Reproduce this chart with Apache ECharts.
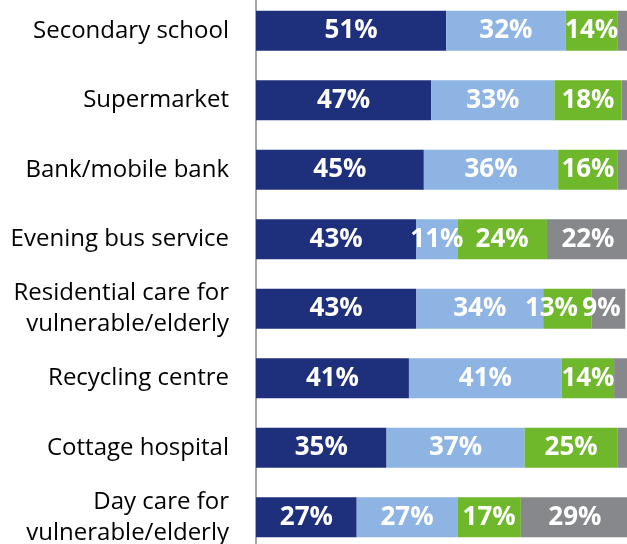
<!DOCTYPE html>
<html>
	<head>
		<meta charset="UTF-8">
		<title></title>
		<script src="https://cdn.jsdelivr.net/npm/echarts@6/dist/echarts.min.js"></script>
		<style>
			html, body { margin: 0; padding: 0; background: #fff; }
		</style>
	</head>
	<body>
		<div id="chart" style="width: 627px;height: 544px;"></div>
		<script type="text/javascript">
			var categories = ['Secondary school', 'Supermarket', 'Bank/mobile bank', 'Evening bus service',
				'Residential care for\nvulnerable/elderly', 'Recycling centre', 'Cottage hospital',
				'Day care for\nvulnerable/elderly'];
			var dark = [51, 47, 45, 43, 43, 41, 35, 27];
			var light = [32, 33, 36, 11, 34, 41, 37, 27];
			var green = [14, 18, 16, 24, 13, 14, 25, 17];
			var grey = [3, 2, 3, 22, 9, 4, 3, 29];

			var colors = ['#1e2f7c', '#8eb4e3', '#6fb72b', '#87888c'];
			var lists = [dark, light, green, grey];
			// labels nudged left on the crowded residential care row
			var nudges = [0, 0, -16, -7];

			var myChart = echarts.init(document.getElementById('chart'));
			var series = [];
			for (var i = 0; i < lists.length; i++) {
				var items = lists[i].map(function (v, j) {
					if (j == 4 && nudges[i]) {
						return { value: v, label: { offset: [nudges[i], 0] } };
					}
					return v;
				});
				series.push({
					type: 'bar',
					stack: 'all',
					barWidth: 40,
					data: items,
					itemStyle: { color: colors[i] },
					label: {
						show: true,
						position: 'inside',
						color: '#fff',
						fontFamily: 'Open Sans',
						fontWeight: 'bold',
						fontSize: 26,
						formatter: function (p) {
							return p.value >= 5 ? p.value + '%' : '';
						}
					}
				});
			}

			var option = {
				animation: false,
				grid: { left: 256, top: -4, width: 373, height: 556, outerBoundsMode: 'none', containLabel: false },
				xAxis: {
					type: 'value',
					min: 0,
					max: 100,
					show: false
				},
				yAxis: {
					type: 'category',
					inverse: true,
					data: categories,
					axisTick: { show: false },
					axisLine: { show: true, lineStyle: { color: '#a6a6a6', width: 2 } },
					axisLabel: {
						margin: 27,
						color: '#000',
						fontFamily: 'Open Sans',
						fontSize: 24,
						lineHeight: 31,
						align: 'right'
					}
				},
				series: series
			};
			myChart.setOption(option);
		</script>
	</body>
</html>
